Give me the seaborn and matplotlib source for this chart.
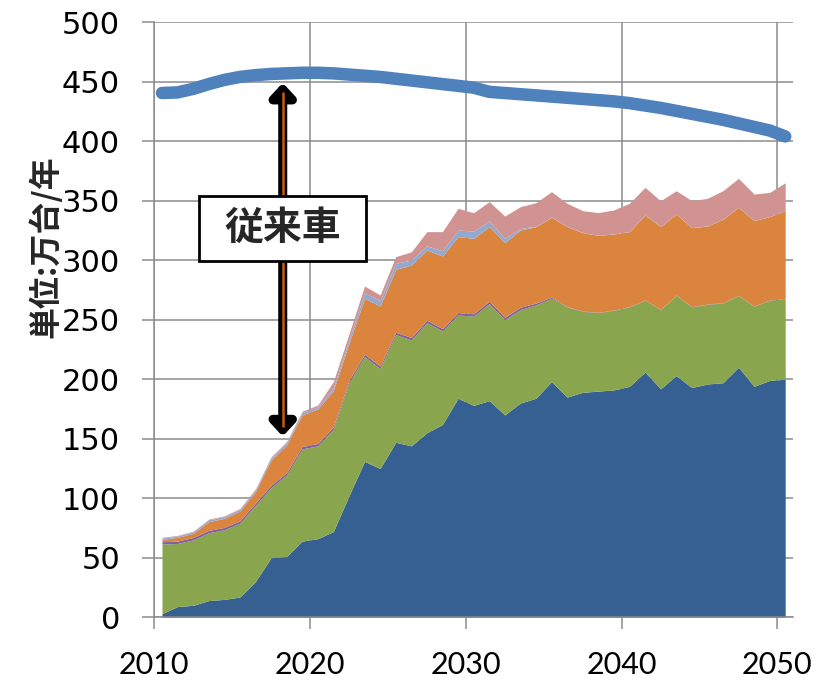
import numpy as np
import pandas as pd
import matplotlib
matplotlib.use("Agg")
import matplotlib.pyplot as plt
from matplotlib.patches import Rectangle
import seaborn as sns

# ---- data (万台/年) ----
years = list(range(2010, 2051))

blue = [3, 9, 10, 14, 15, 17, 30, 50, 51, 64,
        66, 72, 102, 131, 125, 147, 144, 155, 162, 184,
        178, 182, 170, 180, 184, 198, 185, 189, 190, 191,
        194, 206, 192, 203, 193, 196, 197, 210, 194, 199,
        200]
green = [58.5, 53, 55, 57, 58.5, 62, 64, 59, 68.5, 77.5,
         78, 86, 95, 88, 84, 90.5, 89, 92.5, 78.5, 70,
         75, 81.5, 80, 78.5, 78.5, 70, 75.7, 68, 65.9, 66.9,
         66.7, 60.3, 66.4, 67.5, 67.7, 66.9, 67, 60.2, 67.2, 67.3,
         67.7]
purple = [2, 2, 2, 2, 2, 2, 2, 2, 2, 2,
          2, 2, 2, 2, 2, 2, 2, 2, 2, 2,
          2, 2, 2, 2, 1.5, 1, 0.3, 0.3, 0.3, 0.3,
          0.3, 0.3, 0.3, 0.3, 0.3, 0.3, 0.3, 0.3, 0.3, 0.3,
          0.3]
orange = [1.9, 3.1, 3.5, 7.3, 7.6, 8.2, 9.5, 21, 23.2, 26.5,
          29, 30.4, 31, 47, 50.5, 52.8, 61, 59.1, 61, 63.8,
          63.4, 62.7, 62.7, 64.9, 64.2, 67, 67.2, 65.8, 64.7, 63.8,
          63, 71.4, 69.5, 68, 66.3, 65.5, 70.1, 73.9, 71.7, 70,
          73.6]
light_blue = [1.2, 1.2, 1.3, 1.5, 1.5, 1.5, 1.6, 1.8, 2, 2,
              1.8, 2.6, 3.5, 4.7, 4.5, 5.1, 4.2, 3.4, 4.5, 5.6,
              6, 4.8, 3.7, 1.4, 0.3, 0.1, 0.1, 0.1, 0.1, 0.1,
              0.1, 0.1, 0.1, 0.1, 0.1, 0.1, 0.1, 0.1, 0.1, 0.1,
              0.1]
pink = [0.5, 0.5, 0.5, 0.6, 0.6, 0.7, 0.8, 1, 1, 1.2,
        1.5, 5, 4.5, 5.6, 4.8, 5.6, 6.8, 12, 16, 18.2,
        15.5, 16.2, 18.7, 18.2, 19.8, 21.5, 19.5, 18.4, 19, 20.1,
        23.7, 23.1, 21.7, 19.5, 22.6, 23.2, 23.9, 24.3, 22.3, 20.3,
        23.4]
conventional = [440.5, 441, 444, 448, 451.5, 454, 455.5, 456.5, 457, 457.5,
                457.5, 457, 456, 455, 454, 452.5, 451, 449.5, 448, 446.5,
                445, 441.5, 440.5, 439.5, 438.5, 437.5, 436.5, 435.5, 434.5, 433.5,
                432, 430, 428, 425.5, 423, 420.5, 418, 415, 412, 409,
                404]

tick_years = [2010, 2020, 2030, 2040, 2050]
value_ticks = list(range(0, 501, 50))
unit_label = "単位:万台/年"
conventional_label = "従来車"

area_colors = ["#366092", "#89A54E", "#7E62A1", "#DB843D", "#93A9D0", "#D09392"]
line_color = "#4F81BD"
grid_color = "#8C8C8C"

sns.set_theme(style="whitegrid")
plt.rcParams["font.family"] = ["Lato", "DejaVu Sans"]
cjk = ["Noto Sans CJK JP", "DejaVu Sans"]

fig = plt.figure(figsize=(8.25, 6.83), dpi=100)
fig.patch.set_facecolor("white")
ax = fig.add_axes([0.1869, 0.0963, 0.7743, 0.8712])
ax.set_facecolor("white")

# each annual value sits in the middle of its year
x = np.array(years) + 0.5

ax.stackplot(x, blue, green, purple, orange, light_blue, pink,
             colors=area_colors, linewidth=0, zorder=2)

df = pd.DataFrame({"year": x, "value": conventional})
sns.lineplot(data=df, x="year", y="value", ax=ax, color=line_color,
             linewidth=9, solid_capstyle="round", zorder=4)

# double-headed arrow showing the conventional-car volume
arrow_x = 2018.25
ax.annotate("", xy=(arrow_x, 449), xytext=(arrow_x, 152),
            arrowprops=dict(arrowstyle="<|-|>,head_length=0.75,head_width=0.7",
                            color="black", lw=6.5, shrinkA=0, shrinkB=0,
                            mutation_scale=10),
            zorder=5)
ax.plot([arrow_x, arrow_x], [160, 441], color="#C55A11", lw=1.8,
        solid_capstyle="butt", zorder=6)

# labelled box over the arrow
ax.add_patch(Rectangle((2012.88, 299.3), 10.71, 54.7, facecolor="white",
                       edgecolor="black", lw=2, zorder=7))
ax.text(2018.23, 326.6, conventional_label, ha="center", va="center",
        fontsize=28, fontweight="bold", family=cjk, zorder=8)

ax.set_xlim(2010, 2051)
ax.set_ylim(0, 500)
ax.set_xticks(tick_years)
ax.set_xticklabels([str(t) for t in tick_years], fontsize=22)
ax.set_yticks(value_ticks)
ax.set_yticklabels([str(v) for v in value_ticks], fontsize=22,
                   family=["DejaVu Sans"])
ax.set_xlabel("")
ax.set_ylabel(unit_label, fontsize=23, fontweight="bold", family=cjk)
ax.yaxis.set_label_coords(-0.144, 0.622)

ax.grid(True, color=grid_color, lw=1.1, zorder=0)
ax.set_axisbelow(True)
ax.tick_params(axis="both", which="major", direction="out", length=8.5,
               width=1.1, color=grid_color, labelcolor="black",
               bottom=True, left=True)
ax.tick_params(axis="y", pad=16)
ax.tick_params(axis="x", pad=16)
for side in ["top", "right"]:
    ax.spines[side].set_visible(False)
for side in ["left", "bottom"]:
    ax.spines[side].set_color(grid_color)
    ax.spines[side].set_linewidth(1.1)

fig.savefig("out.png", dpi=100, facecolor="white")
